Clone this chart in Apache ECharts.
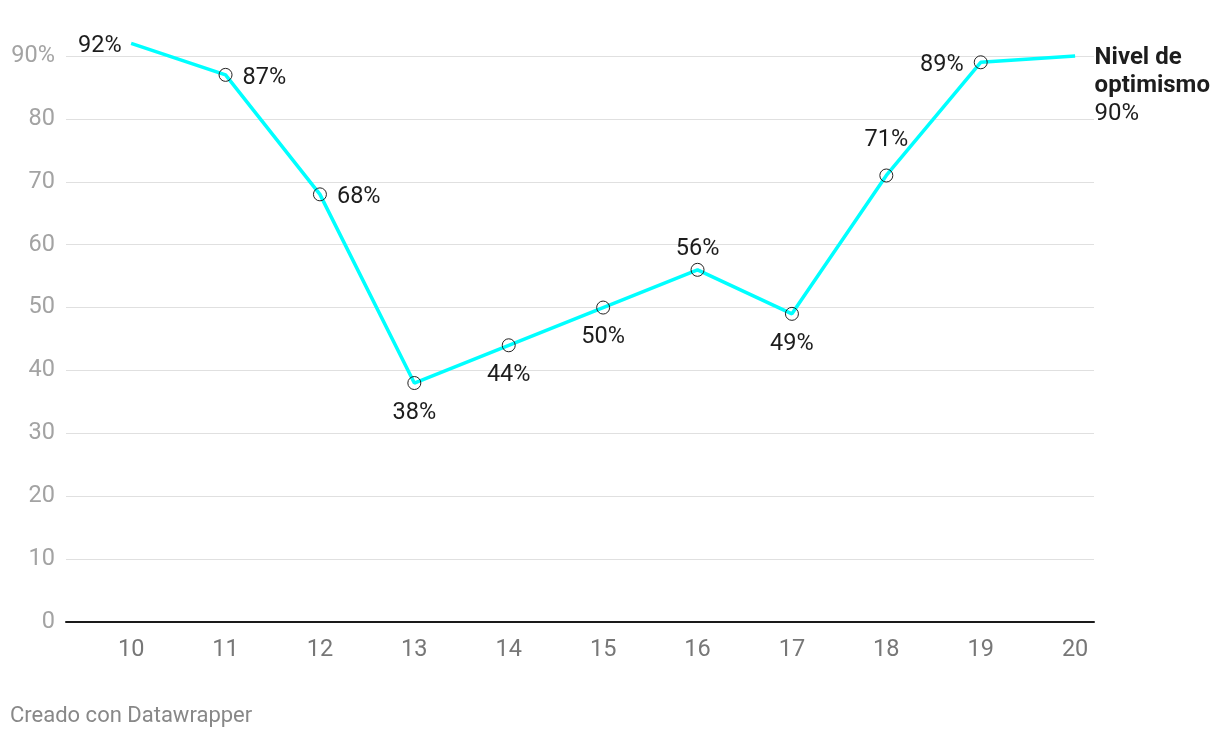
<!DOCTYPE html>
<html><head><meta charset="utf-8">
<script src="https://cdn.jsdelivr.net/npm/echarts@6/dist/echarts.min.js"></script>
<style>html,body{margin:0;padding:0;background:#fff}#c{width:1220px;height:738px}</style>
</head><body><div id="c"></div>
<script>
var categories = [10, 11, 12, 13, 14, 15, 16, 17, 18, 19, 20];
var optimism = [92, 87, 68, 38, 44, 50, 56, 49, 71, 89, 90];
var labelPositions = ['left', 'right', 'right', 'bottom', 'bottom', 'bottom', 'top', 'bottom', 'top', 'left', 'end'];
var yTicks = [0, 10, 20, 30, 40, 50, 60, 70, 80, 90];
var seriesName = 'Nivel de optimismo';

var FONT = 'Roboto';
var FS = 23.5;
var extraDist = { 8: 14 };
var data = categories.map(function (c, i) {
  var pos = labelPositions[i];
  var item = { value: [c, optimism[i]] };
  var hideSym = (i === 0 || i === categories.length - 1);
  if (hideSym) item.itemStyle = { borderWidth: 0, color: 'rgba(0,0,0,0)' };
  if (pos === 'end') {
    item.label = {
      show: true, position: 'right', distance: 13, offset: [0, 30],
      formatter: '{b|Nivel de}\n{b|optimismo}\n{v|' + optimism[i] + '%}',
      rich: {
        b: { fontFamily: FONT, fontSize: 24, fontWeight: 'bold', color: '#1d1d1d', lineHeight: 28 },
        v: { fontFamily: FONT, fontSize: 24, color: '#1d1d1d', lineHeight: 28 }
      }
    };
  } else {
    var d = hideSym ? 3 : (pos === 'top' ? 5 : (pos === 'bottom' ? 8 : 10));
    d += (extraDist[i] || 0);
    item.label = { show: true, position: pos, distance: d, offset: [0, 3] };
  }
  return item;
});

var chart = echarts.init(document.getElementById('c'), null, { renderer: 'canvas' });
chart.setOption({
  animation: false,
  backgroundColor: '#ffffff',
  grid: { left: 66, right: 126, top: 56, bottom: 116, containLabel: false },
  xAxis: {
    type: 'value', min: 9.31, max: 20.2,
    axisLine: { show: true, onZero: true, lineStyle: { color: '#1a1a1a', width: 2 } },
    axisTick: { show: false },
    splitLine: { show: false },
    axisLabel: {
      customValues: categories, margin: 16,
      fontFamily: FONT, fontSize: FS, color: '#777777'
    }
  },
  yAxis: {
    type: 'value', min: 0, max: 90, interval: 10,
    axisLine: { show: false }, axisTick: { show: false },
    splitLine: { show: true, lineStyle: { color: '#e0e0e0', width: 1 } },
    axisLabel: {
      margin: 11, fontFamily: FONT, fontSize: FS, color: '#a3a3a3',
      customValues: yTicks,
      formatter: function (v) { return v === 90 ? v + '%' : String(v); }
    }
  },
  series: [{
    name: seriesName,
    type: 'line',
    clip: false,
    data: data,
    lineStyle: { color: '#00ffff', width: 3.5 },
    symbol: 'circle', symbolSize: 13,
    itemStyle: { color: 'rgba(0,0,0,0)', borderColor: '#222222', borderWidth: 1 },
    label: {
      fontFamily: FONT, fontSize: FS, color: '#1d1d1d',
      formatter: function (p) { return p.value[1] + '%'; }
    },
    emphasis: { disabled: true }
  }],
  graphic: [{
    type: 'text', left: 10, top: 705,
    style: { text: 'Creado con Datawrapper', fontFamily: FONT, fontSize: 22, fill: '#888888' }
  }]
});
</script></body></html>
